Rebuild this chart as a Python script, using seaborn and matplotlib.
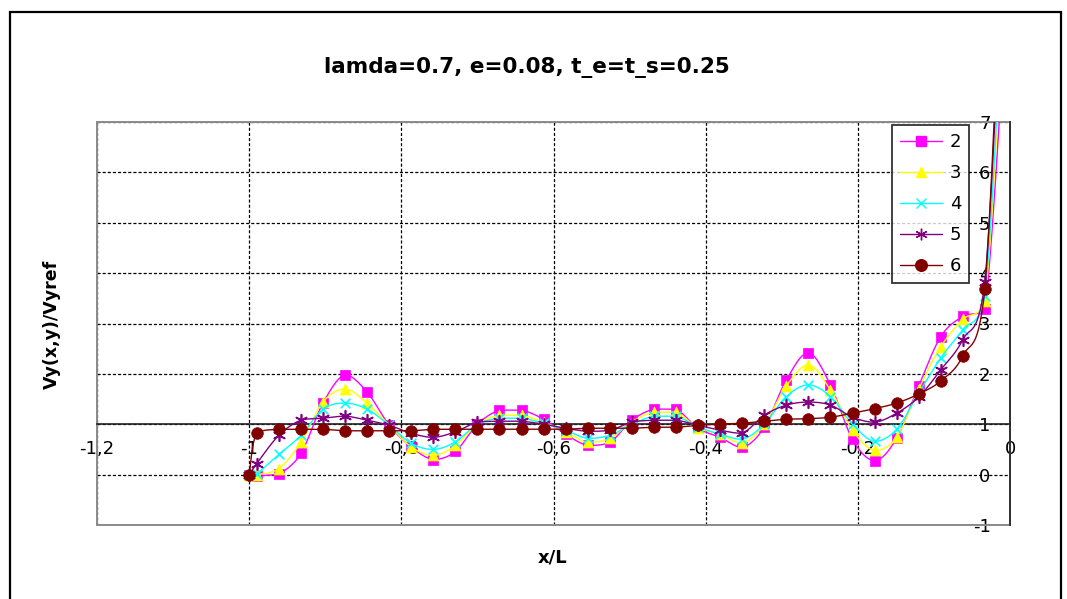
import numpy as np
import pandas as pd
import matplotlib
matplotlib.use("Agg")
import matplotlib.pyplot as plt
import seaborn as sns
from matplotlib.lines import Line2D
from matplotlib.patches import Rectangle

# ---------------- data ----------------
x_pos = [-1.0, -0.990, -0.961, -0.932, -0.903, -0.874, -0.845, -0.816, -0.787,
         -0.758, -0.729, -0.700, -0.671, -0.642, -0.613, -0.584, -0.555, -0.526,
         -0.497, -0.468, -0.439, -0.410, -0.381, -0.352, -0.323, -0.294, -0.265,
         -0.236, -0.207, -0.178, -0.149, -0.120, -0.091, -0.062, -0.033, -0.004]

s2 = [0.0, -0.02, 0.02, 0.42, 1.42, 1.98, 1.64, 0.98, 0.55, 0.30, 0.46, 1.00,
      1.28, 1.28, 1.10, 0.80, 0.58, 0.64, 1.08, 1.30, 1.30, 0.92, 0.74, 0.54,
      0.94, 1.88, 2.42, 1.78, 0.70, 0.28, 0.72, 1.76, 2.74, 3.14, 3.28, 9.5]
s3 = [0.0, 0.00, 0.12, 0.64, 1.44, 1.70, 1.42, 0.98, 0.55, 0.38, 0.58, 1.00,
      1.18, 1.18, 1.04, 0.85, 0.64, 0.72, 1.05, 1.24, 1.24, 0.93, 0.80, 0.62,
      1.00, 1.76, 2.18, 1.68, 0.88, 0.48, 0.74, 1.70, 2.54, 3.08, 3.44, 10.5]
s4 = [0.0, 0.02, 0.40, 0.78, 1.30, 1.42, 1.30, 0.98, 0.62, 0.50, 0.65, 1.00,
      1.12, 1.12, 1.02, 0.88, 0.72, 0.78, 1.00, 1.16, 1.16, 0.95, 0.80, 0.70,
      1.00, 1.55, 1.78, 1.55, 1.00, 0.66, 0.90, 1.62, 2.32, 2.88, 3.54, 11.0]
s5 = [0.0, 0.22, 0.78, 1.08, 1.12, 1.16, 1.08, 0.98, 0.82, 0.74, 0.85, 1.04,
      1.06, 1.06, 1.00, 0.92, 0.86, 0.88, 1.04, 1.08, 1.08, 0.98, 0.88, 0.82,
      1.18, 1.38, 1.44, 1.38, 1.14, 1.04, 1.22, 1.54, 2.08, 2.68, 3.82, 12.0]
s6 = [0.0, 0.82, 0.90, 0.90, 0.90, 0.87, 0.87, 0.87, 0.87, 0.90, 0.90, 0.90,
      0.90, 0.90, 0.90, 0.90, 0.92, 0.92, 0.92, 0.94, 0.94, 0.98, 1.00, 1.02,
      1.06, 1.10, 1.11, 1.14, 1.22, 1.31, 1.42, 1.60, 1.86, 2.36, 3.68, 13.0]

series_names = ["2", "3", "4", "5", "6"]
series_values = [s2, s3, s4, s5, s6]

x_ticks = [-1.2, -1.0, -0.8, -0.6, -0.4, -0.2, 0.0]
x_tick_labels = ["-1,2", "-1", "-0,8", "-0,6", "-0,4", "-0,2", "0"]
y_ticks = [-1, 0, 1, 2, 3, 4, 5, 6, 7]
y_tick_labels = ["-1", "0", "1", "2", "3", "4", "5", "6", "7"]

title = "lamda=0.7, e=0.08, t_e=t_s=0.25"
x_label = "x/L"
y_label = "Vy(x,y)/Vyref"

# ---------------- styles ----------------
colors = ["#FF00FF", "#FFFF00", "#00FFFF", "#800080", "#800000"]
markers = ["s", "^", "x", (6, 2, 0), "o"]
msizes = [52, 62, 48, 70, 70]

sns.set_theme(style="white")
plt.rcParams['font.family'] = ['DejaVu Sans']
plt.rcParams['text.color'] = 'black'
plt.rcParams['axes.labelcolor'] = 'black'
plt.rcParams['xtick.color'] = 'black'
plt.rcParams['ytick.color'] = 'black'


def excel_smooth(xs, ys, n=14):
    xs = np.asarray(xs, float)
    ys = np.asarray(ys, float)
    N = len(xs)
    out_x, out_y = [xs[0]], [ys[0]]
    t = np.linspace(0, 1, n + 1)[1:]
    for i in range(N - 1):
        p0 = np.array([xs[max(i - 1, 0)], ys[max(i - 1, 0)]])
        p1 = np.array([xs[i], ys[i]])
        p2 = np.array([xs[i + 1], ys[i + 1]])
        p3 = np.array([xs[min(i + 2, N - 1)], ys[min(i + 2, N - 1)]])
        c1 = p1 + (p2 - p0) / 6.0
        c2 = p2 - (p3 - p1) / 6.0
        lo, hi = min(p1[1], p2[1]), max(p1[1], p2[1])
        c1[1] = np.clip(c1[1], lo, hi)
        c2[1] = np.clip(c2[1], lo, hi)
        b = ((1 - t) ** 3)[:, None] * p1 + (3 * (1 - t) ** 2 * t)[:, None] * c1 \
            + (3 * (1 - t) * t ** 2)[:, None] * c2 + (t ** 3)[:, None] * p2
        out_x.extend(b[:, 0])
        out_y.extend(b[:, 1])
    return np.array(out_x), np.array(out_y)


W, H = 1067, 599
fig = plt.figure(figsize=(W / 100, H / 100), dpi=100)
fig.patch.set_facecolor("white")
ax = fig.add_axes([97 / W, (H - 525) / H, 913 / W, 403 / H])
ax.set_facecolor("white")

for i, (name, vals) in enumerate(zip(series_names, series_values)):
    sx, sy = excel_smooth(x_pos, vals)
    dfl = pd.DataFrame({"x": sx, "y": sy})
    sns.lineplot(data=dfl, x="x", y="y", sort=False, estimator=None,
                 color=colors[i], lw=1.0, ax=ax, zorder=3 + i)
    dfm = pd.DataFrame({"x": x_pos, "y": vals})
    if markers[i] in ("x",) or isinstance(markers[i], tuple):
        sns.scatterplot(data=dfm, x="x", y="y", marker=markers[i], s=msizes[i],
                        color=colors[i], linewidth=1.2, ax=ax, zorder=3.5 + i)
    else:
        sns.scatterplot(data=dfm, x="x", y="y", marker=markers[i], s=msizes[i],
                        color=colors[i], edgecolor=colors[i], linewidth=0.5,
                        ax=ax, zorder=3.5 + i)

ax.set_xlim(-1.2, 0.0)
ax.set_ylim(-1, 7)
ax.set_xticks(x_ticks)
ax.set_xticklabels(x_tick_labels)
ax.set_yticks(y_ticks)
ax.set_yticklabels(y_tick_labels)
ax.set_xlabel("")
ax.set_ylabel("")

# axes crossing: x axis at y=1, y axis at x=0
ax.spines['bottom'].set_position(('data', 1))
ax.spines['left'].set_position(('data', 0))
for sp in ('bottom', 'left'):
    ax.spines[sp].set_color("#222222")
    ax.spines[sp].set_linewidth(1.2)
    ax.spines[sp].set_zorder(2.6)
ax.spines['top'].set_visible(False)
ax.spines['right'].set_visible(False)
ax.add_patch(Rectangle((0, 0), 1, 1, transform=ax.transAxes, fill=False,
                       edgecolor="#8a8a8a", lw=1.4, zorder=2.5, clip_on=False))

ax.tick_params(axis='x', length=0, pad=11, labelsize=13, labelcolor="black")
ax.tick_params(axis='y', length=0, pad=14, labelsize=13, labelcolor="black")
ax.set_axisbelow(True)
ax.grid(True, color="black", lw=0.9, linestyle=(0, (2.5, 1.6)))

fig.text(527 / W, 1 - 67 / H, title, ha="center", va="center",
         fontsize=15.5, fontweight="bold", color="black")
fig.text(553 / W, 1 - 557 / H, x_label, ha="center", va="center",
         fontsize=13, fontweight="bold", color="black")
fig.text(52 / W, 1 - 324 / H, y_label, ha="center", va="center",
         rotation=90, fontsize=12.5, fontweight="bold", color="black")

handles = [Line2D([0], [0], color=colors[i], lw=1.0, marker=markers[i],
                  markersize=np.sqrt(msizes[i]), markerfacecolor=colors[i],
                  markeredgecolor=colors[i], markeredgewidth=1.0)
           for i in range(5)]
leg = ax.legend(handles, series_names, loc="upper left",
                bbox_to_anchor=(892 / W, 1 - 125 / H),
                bbox_transform=fig.transFigure, frameon=True, fancybox=False,
                fontsize=13, handlelength=2.3, handletextpad=0.45,
                labelspacing=0.72, borderpad=0.45, borderaxespad=0)
leg.get_frame().set_edgecolor("black")
leg.get_frame().set_linewidth(1.3)
for txt in leg.get_texts():
    txt.set_color("black")
leg.set_zorder(20)

fig.patches.append(Rectangle((10 / W, -0.05), (1061 - 10) / W, 1 - 12 / H + 0.05,
                             transform=fig.transFigure, fill=False,
                             edgecolor="black", lw=1.6))

fig.savefig("out.png", dpi=100, facecolor="white")
